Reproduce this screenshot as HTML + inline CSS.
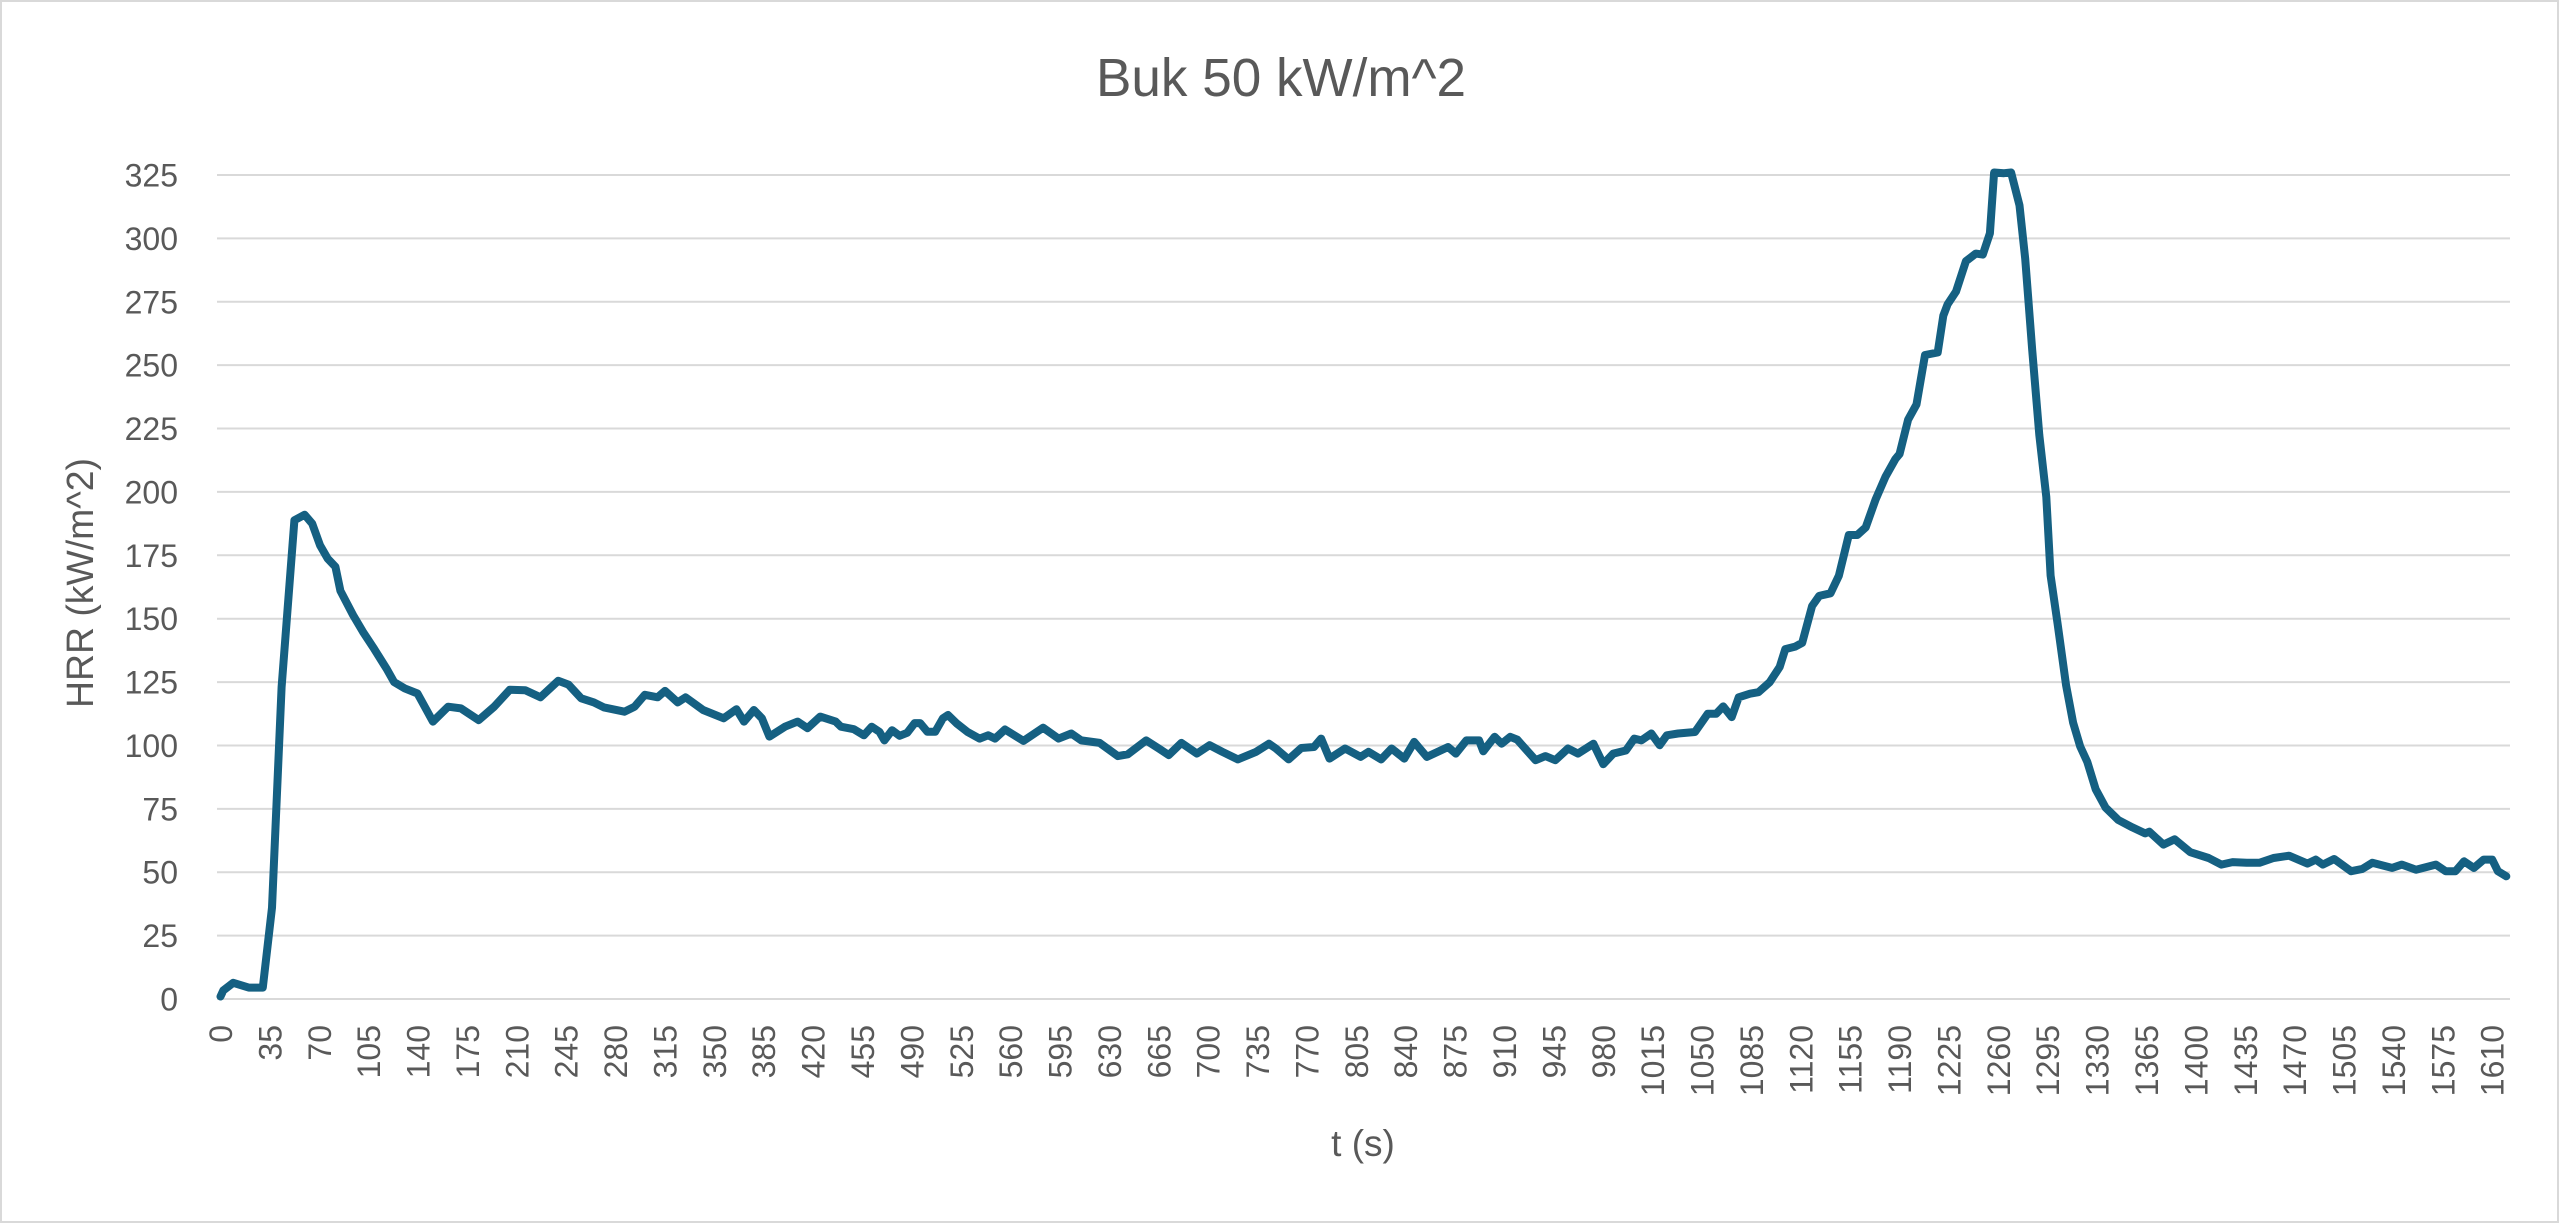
<!DOCTYPE html>
<html><head><meta charset="utf-8"><style>
html,body{margin:0;padding:0;background:#fff;}
svg{display:block;}
text{font-family:"Liberation Sans",sans-serif;fill:#595959;}
</style></head><body>
<svg id="c" width="2560" height="1224" viewBox="0 0 2560 1224" xmlns="http://www.w3.org/2000/svg">
<rect x="1" y="1" width="2557" height="1221" fill="#fff" stroke="#d9d9d9" stroke-width="2"/>
<text x="1281" y="96" font-size="54" text-anchor="middle" textLength="370" lengthAdjust="spacingAndGlyphs">Buk 50 kW/m^2</text>
<g id="grid" stroke="#d9d9d9" stroke-width="2"></g>
<g id="ylab" font-size="32" text-anchor="end"></g>
<g id="xlab" font-size="32"></g>
<text transform="translate(93,583) rotate(-90)" font-size="38" text-anchor="middle" textLength="250" lengthAdjust="spacingAndGlyphs">HRR (kW/m^2)</text>
<text x="1363" y="1156" font-size="37" text-anchor="middle">t (s)</text>
<polyline id="ln" fill="none" stroke="#156082" stroke-width="8" stroke-linejoin="round" stroke-linecap="round" points=""/>
</svg>
<script>
var NS="http://www.w3.org/2000/svg";
function X(t){return 220.5+t*1.411;}
function Y(v){return 999-v*2.5354;}
var g=document.getElementById("grid"),yl=document.getElementById("ylab"),xl=document.getElementById("xlab");
for(var v=0;v<=325;v+=25){
 var l=document.createElementNS(NS,"line");l.setAttribute("x1",217);l.setAttribute("x2",2510);
 l.setAttribute("y1",Y(v));l.setAttribute("y2",Y(v));g.appendChild(l);
 var t=document.createElementNS(NS,"text");t.setAttribute("x",178);t.setAttribute("y",Y(v)+11.5);t.textContent=v;yl.appendChild(t);
}
for(var s=0;s<=1610;s+=35){
 var t=document.createElementNS(NS,"text");
 t.setAttribute("transform","translate("+(X(s)+11.5)+",1025) rotate(-90)");
 t.setAttribute("text-anchor","end");t.textContent=s;xl.appendChild(t);
}
var d=[[0,1],[2,3.4],[9,6.4],[20,4.5],[30,4.5],[36.5,36],[43.3,123],[52.4,188.8],[59.6,191],[65,187.5],[70.5,179],[76,173.7],[81.4,170.5],[85,161],[94,151.4],[101,144.8],[109,138],[118,130],[123,125],[130.6,122.5],[139.6,120.5],[150.5,109.4],[161.3,115.3],[170.4,114.6],[183,110],[194,115.3],[205,122],[216,121.8],[226.7,119],[239.3,125.5],[246.6,124],[255.6,118.6],[264.6,117],[271.8,115],[286.3,113.3],[293.5,115.3],[300.7,120],[309.8,119],[315,121.5],[324,117],[329.6,119],[342,114],[356.6,110.7],[365.6,114.3],[371,109.4],[378,114],[383.7,110.7],[389,103.5],[400,107.4],[409,109.4],[416,106.8],[425,111.4],[436,109.4],[439.7,107.4],[448.8,106.4],[456,104],[461.5,107.4],[467,105.4],[470.5,102],[476,106],[481.3,103.8],[486.7,105],[492,108.8],[495.8,108.8],[501,105.4],[506.5,105.4],[512,110.7],[515.6,112],[522,108.6],[529.5,105.3],[538,102.7],[544,104],[549,102.7],[556,106.3],[569,101.8],[583,107],[594,102.7],[603,104.7],[610,102],[623,101],[636,95.8],[643,96.5],[656,102],[665,98.8],[672,96.2],[681,101],[692,96.8],[701,100.1],[710,97.5],[721,94.5],[734,97.5],[743,100.7],[748,98.8],[757,94.5],[766,99],[775,99.4],[780,102.7],[786,94.8],[797,98.8],[808,95.5],[813.6,97.5],[822.6,94.5],[830,98.8],[839,94.8],[846,101.4],[855,95.5],[870,99.4],[875.5,96.8],[883,102],[892,102],[895,97.7],[903,103.4],[908,100.7],[914,103.4],[919,102.3],[932,94.2],[939,95.8],[946,94.2],[955,98.8],[962,96.8],[973,100.7],[980,92.6],[987,96.8],[996,98],[1002,102.7],[1007,102],[1014,104.7],[1020,100.1],[1025,104],[1033,104.7],[1045,105.3],[1054,112.5],[1060,112.5],[1065,115.4],[1071,111.2],[1076,119],[1084,120.4],[1090,121],[1098,125],[1105,131],[1109,138],[1116,139],[1121,140.5],[1128,155],[1133,159],[1141,160],[1147,167],[1154,183],[1160,183],[1166,186],[1173,197],[1180,206],[1187,213],[1190,215],[1196,228.5],[1202,234.5],[1208,254],[1217,255],[1221,269.5],[1224,274],[1230,279],[1237,291],[1244,294],[1249,293.6],[1254,302],[1257,326],[1264,325.7],[1269,326],[1275,313],[1279,292],[1284,256],[1289,222.5],[1294,198],[1297,167],[1302,148],[1308,123.7],[1313,109],[1318,99.6],[1323,93.5],[1329,82.7],[1336,75.5],[1345,70.6],[1355,67.7],[1364,65.3],[1367,66],[1377,60.9],[1385,63],[1396,57.9],[1409,55.6],[1418,53],[1426,54],[1436,53.7],[1445,53.7],[1455,55.6],[1466,56.5],[1479,53.4],[1485,55],[1490,53],[1498,55.2],[1510,50.4],[1518,51.3],[1525,53.7],[1539,51.7],[1546,53],[1556,51],[1570,53],[1577,50.4],[1584,50.4],[1590,54.3],[1597,51.7],[1604,55],[1610,55],[1614,50.4],[1620,48.4]];
document.getElementById("ln").setAttribute("points",d.map(function(p){return X(p[0]).toFixed(1)+","+Y(p[1]).toFixed(1);}).join(" "));
</script>
</body></html>
